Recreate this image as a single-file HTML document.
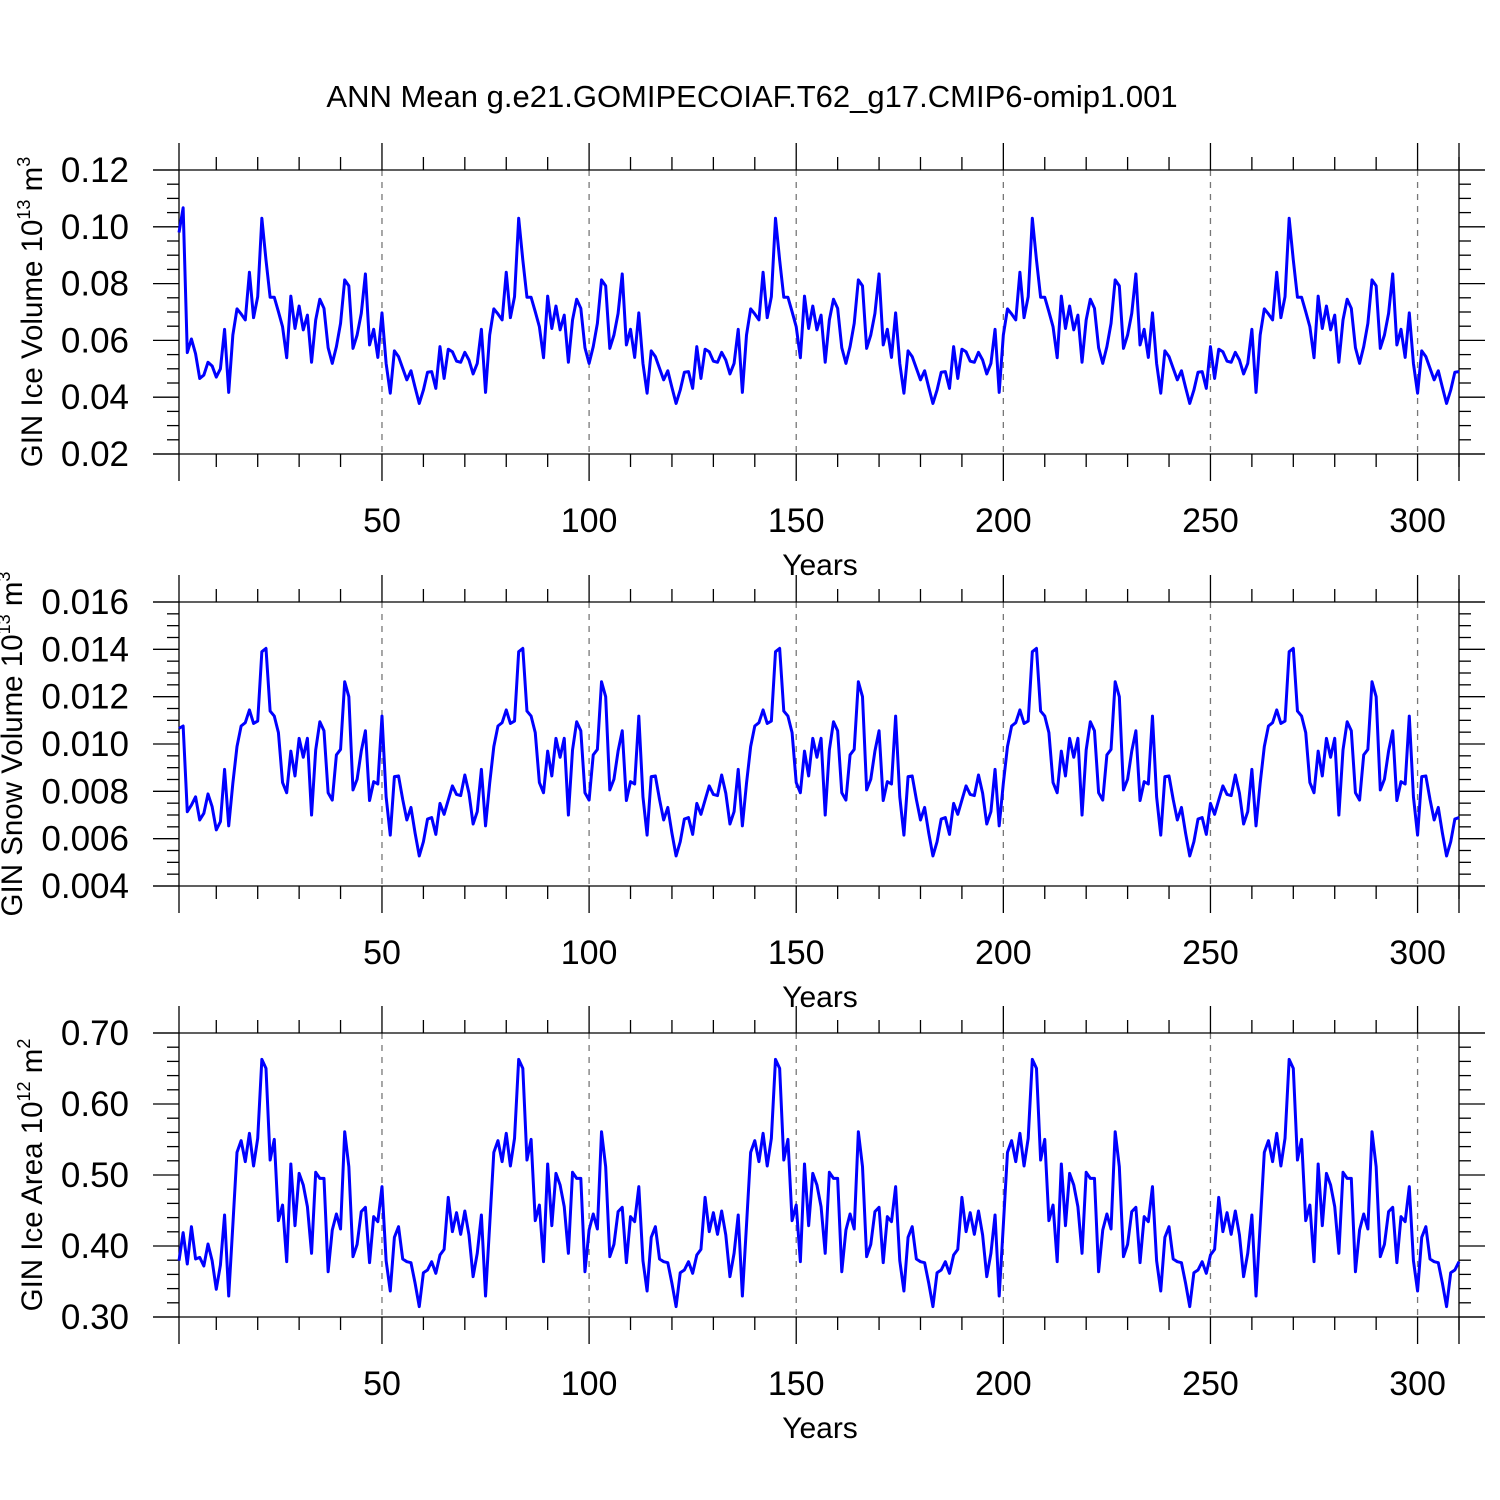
<!DOCTYPE html>
<html><head><meta charset="utf-8"><style>
html,body{margin:0;padding:0;background:#fff}
svg{display:block;font-family:"Liberation Sans",sans-serif}
</style></head><body>
<svg id="fig" width="1500" height="1500" viewBox="0 0 1500 1500" xmlns="http://www.w3.org/2000/svg">
<rect width="1500" height="1500" fill="#fff"/>
<text x="752" y="107" font-size="31" text-anchor="middle">ANN Mean g.e21.GOMIPECOIAF.T62_g17.CMIP6-omip1.001</text>
</svg>
<script>
// Panel 1: ice volume (1e13 m^3)
const iceVolHead = [0.098,0.1067,0.0557,0.0605,0.0553,0.0466,0.0478,0.0523,0.051,0.0471,0.050];
const iceVolCycle = [0.0431,0.0578,0.0466,0.0569,0.0560,0.0527,0.0523,0.0558,0.0531,0.0482,0.0519,0.0639,0.0417,0.0619,0.0711,0.0693,0.0672,0.0840,0.0680,0.0754,0.1030,0.0883,0.0752,0.0752,0.0701,0.0648,0.0539,0.0756,0.0642,0.0721,0.0637,0.0689,0.0523,0.0672,0.0745,0.0713,0.0574,0.0519,0.0578,0.0660,0.0813,0.0792,0.0572,0.0619,0.0695,0.0834,0.0584,0.0639,0.0540,0.0697,0.0519,0.0414,0.0563,0.0543,0.0502,0.0461,0.0493,0.0434,0.0378,0.0425,0.0488,0.0490];
// Panel 2: snow volume
const snowVolHead = [0.01066,0.01076,0.00714,0.00742,0.00777,0.00679,0.00707,0.00789,0.00735,0.00637,0.00672];
const snowVolCycle = [0.00618,0.00749,0.00703,0.00763,0.00823,0.00787,0.00782,0.00869,0.00792,0.00662,0.00714,0.00893,0.00654,0.00834,0.00989,0.01076,0.01090,0.01144,0.01087,0.01097,0.01390,0.01404,0.01139,0.01118,0.01048,0.00837,0.00794,0.00970,0.00865,0.01024,0.00944,0.01024,0.00700,0.00975,0.01094,0.01056,0.00794,0.00763,0.00954,0.00977,0.01263,0.01200,0.00806,0.00851,0.00970,0.01056,0.00761,0.00841,0.00831,0.01118,0.00777,0.00615,0.00862,0.00865,0.00766,0.00679,0.00732,0.00623,0.00527,0.00587,0.00683,0.00689];
// Panel 3: ice area (1e12 m^2)
const iceAreaHead = [0.3793,0.4188,0.3746,0.4272,0.3817,0.3840,0.3718,0.4028,0.3793,0.3390,0.3732];
const iceAreaCycle = [0.3615,0.3873,0.3953,0.4685,0.4202,0.4469,0.4164,0.4493,0.4155,0.3568,0.3897,0.4437,0.3296,0.4296,0.5319,0.5484,0.5188,0.5587,0.5127,0.5516,0.6629,0.6502,0.5211,0.5502,0.4357,0.4577,0.3779,0.5155,0.4286,0.5023,0.4859,0.4554,0.3897,0.5038,0.4953,0.4953,0.3638,0.4225,0.4451,0.4239,0.5610,0.5117,0.3850,0.4023,0.4484,0.4545,0.3765,0.4413,0.4343,0.4836,0.3793,0.3366,0.4122,0.4272,0.3817,0.3779,0.3765,0.3474,0.3146,0.3624,0.3662,0.3779];

const iceVol = [...iceVolHead, ...iceVolCycle.slice(11), ...iceVolCycle, ...iceVolCycle, ...iceVolCycle, ...iceVolCycle];
const snowVol = [...snowVolHead, ...snowVolCycle.slice(11), ...snowVolCycle, ...snowVolCycle, ...snowVolCycle, ...snowVolCycle];
const iceArea = [...iceAreaHead, ...iceAreaCycle.slice(11), ...iceAreaCycle, ...iceAreaCycle, ...iceAreaCycle, ...iceAreaCycle];

const xTicks = [50,100,150,200,250,300];
const yTicks1 = ["0.02","0.04","0.06","0.08","0.10","0.12"];
const yTicks2 = ["0.004","0.006","0.008","0.010","0.012","0.014","0.016"];
const yTicks3 = ["0.30","0.40","0.50","0.60","0.70"];

const NS = "http://www.w3.org/2000/svg";
const svg = document.getElementById('fig');
function mk(tag, attrs, parent){const e=document.createElementNS(NS,tag);for(const k in attrs)e.setAttribute(k,attrs[k]);(parent||svg).appendChild(e);return e;}

const X0=179, X1=1459, YEAR0=1, YEAR1=310;
function xs(yr){return X0+(yr-YEAR0)*(X1-X0)/(YEAR1-YEAR0);}

function panel(name, top, bottom, ticks, minorPer, data, labelMain, sup, unit, labelX){
  const g=mk('g',{});
  
  
  const ymin=parseFloat(ticks[0]), ymax=parseFloat(ticks[ticks.length-1]);
  const ys=v=>bottom-(v-ymin)*(bottom-top)/(ymax-ymin);
  xTicks.forEach(t=>{
    const l=mk('line',{x1:xs(t),x2:xs(t),y1:top,y2:bottom,stroke:'#777','stroke-width':1.3,'stroke-dasharray':'6,6'},g);
    
    
  });
  const ax={stroke:'#000','stroke-width':1.3};
  mk('line',{x1:153,x2:1485,y1:top,y2:top,...ax},g);
  mk('line',{x1:153,x2:1485,y1:bottom,y2:bottom,...ax},g);
  mk('line',{x1:X0,x2:X0,y1:top-27,y2:bottom+27,...ax},g);
  mk('line',{x1:X1,x2:X1,y1:top-27,y2:bottom+27,...ax},g);
  for(let yr=10; yr<=310; yr+=10){
    const major = yr%50===0;
    const len = major?27:13;
    mk('line',{x1:xs(yr),x2:xs(yr),y1:bottom,y2:bottom+len,...ax},g);
    mk('line',{x1:xs(yr),x2:xs(yr),y1:top,y2:top-len,...ax},g);
  }
  xTicks.forEach(t=>{
    const tx=mk('text',{x:xs(t),y:bottom+78,'font-size':34,'text-anchor':'middle'},g);
    tx.textContent=t;
    
    
  });
  const yl=mk('text',{x:820,y:bottom+121,'font-size':30,'text-anchor':'middle'},g);
  yl.textContent='Years';
  
  
  const step=(parseFloat(ticks[1])-ymin)/(minorPer+1);
  const nMinor=Math.round((ymax-ymin)/step);
  for(let i=0;i<=nMinor;i++){
    const y=bottom-i*(bottom-top)/nMinor;
    const major=i%(minorPer+1)===0;
    const len=major?26:12;
    mk('line',{x1:X0-len,x2:X0,y1:y,y2:y,...ax},g);
    mk('line',{x1:X1,x2:X1+len,y1:y,y2:y,...ax},g);
  }
  ticks.forEach(t=>{
    const tx=mk('text',{x:129,y:ys(parseFloat(t))+12,'font-size':35,'text-anchor':'end'},g);
    tx.textContent=t;
    
    
  });
  const cy=(top+bottom)/2;
  const lab=mk('text',{transform:`translate(${labelX},${cy}) rotate(-90)`,'font-size':29.5,'text-anchor':'middle'},g);
  
  
  const t1=mk('tspan',{},lab); t1.textContent=labelMain+' 10';
  const t2=mk('tspan',{dy:-12,'font-size':18},lab); t2.textContent=sup;
  const t3=mk('tspan',{dy:12},lab); t3.textContent=' m';
  const t4=mk('tspan',{dy:-12,'font-size':18},lab); t4.textContent=unit;
  const pts=data.map((v,i)=>xs(i+1).toFixed(2)+','+ys(v).toFixed(2)).join(' ');
  const pl=mk('polyline',{points:pts,fill:'none',stroke:'#0000ff','stroke-width':3,'stroke-linejoin':'round'},g);
  
  
}
panel('ice-volume',170,454,yTicks1,3,iceVol,'GIN Ice Volume','13','3',42);
panel('snow-volume',602,886,yTicks2,3,snowVol,'GIN Snow Volume','13','3',22);
panel('ice-area',1033,1317,yTicks3,4,iceArea,'GIN Ice Area','12','2',42);
</script>
</body></html>
